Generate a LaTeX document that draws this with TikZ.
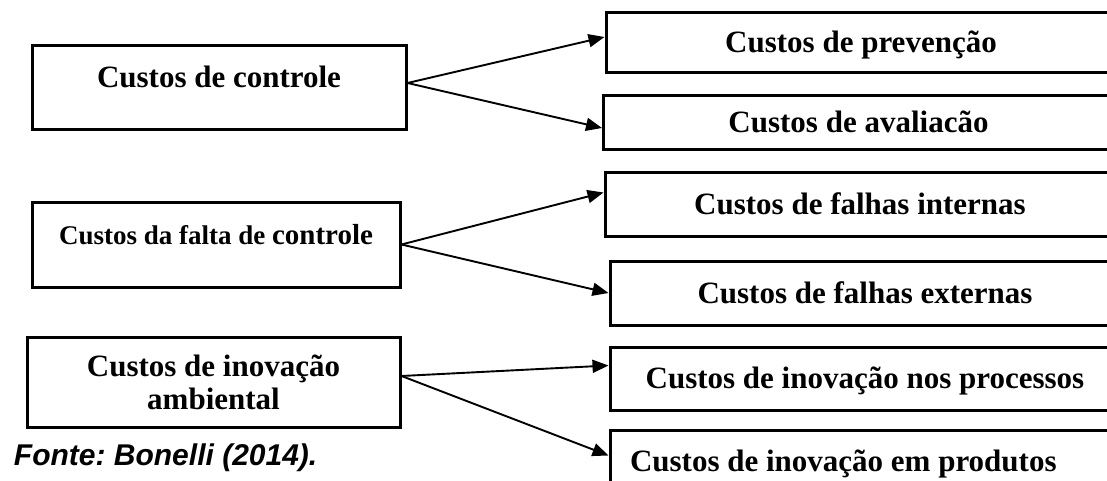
\documentclass[tikz,border=0pt]{standalone}
\usepackage{fontspec}
\setmainfont{Liberation Serif}
\newfontfamily\fontesans{Liberation Sans}
\usetikzlibrary{arrows.meta,positioning}
\frenchspacing

\begin{document}
\begin{tikzpicture}[x=1pt,y=-1pt,->,>={Triangle[length=16pt,width=13pt]},line width=1.9pt]
        \tikzstyle{cost}=[draw,rectangle,line width=3pt,inner sep=0pt,align=center,font=\fontsize{31}{33}\selectfont\bfseries]
        \tikzstyle{group}=[cost,text height=12pt,text depth=12pt]
        \tikzstyle{item}=[cost,minimum width=510pt,text height=22pt,text depth=2pt]

        \useasboundingbox (0,0) rectangle (1107,481);
        \clip (0,0) rectangle (1107,481);

        \node[group,minimum width=374pt,minimum height=84pt] (ctrl)  at (219,88)    {Custos de controle};
        \node[group,minimum width=368pt,minimum height=85pt] (falta) at (216,244.5) {{\fontsize{27}{30}\selectfont Custos da falta de }{\fontsize{29}{30}\selectfont controle}};
        \node[cost,minimum width=373pt,minimum height=90pt]  (inov)  at (213.5,382) {Custos de inovação\\ambiental};

        \node[item,minimum height=60pt] (prev) at (861,43)    {Custos de prevenção};
        \node[item,minimum height=54pt] (aval) at (858.5,123) {Custos de avaliacão};
        \node[item,minimum height=63pt] (fint) at (860,204.5) {Custos de falhas internas};
        \node[item,minimum height=64pt] (fext) at (865,293)   {Custos de falhas externas};
        \node[item,minimum height=63pt] (proc) at (865,378.5) {Custos de inovação nos processos};
        \node[item,minimum height=63pt,text width=470pt,align=flush left] (prod) at (865,461.5) {Custos de inovação em produtos};

        \node[anchor=base west,inner sep=0pt,font=\fontesans\bfseries\itshape\fontsize{30}{34}\selectfont] (fonte) at (13,465) {Fonte: Bonelli (2014).};

        \path ([yshift=5pt]ctrl.east) edge ([yshift=6pt]prev.west)
                                      edge ([yshift=-5pt]aval.west)
              (falta.east)            edge ([yshift=12pt]fint.west)
                                      edge (fext.west)
              ([yshift=6pt]inov.east) edge ([yshift=13pt]proc.west)
                                      edge ([yshift=6pt]prod.west);
\end{tikzpicture}
\end{document}
